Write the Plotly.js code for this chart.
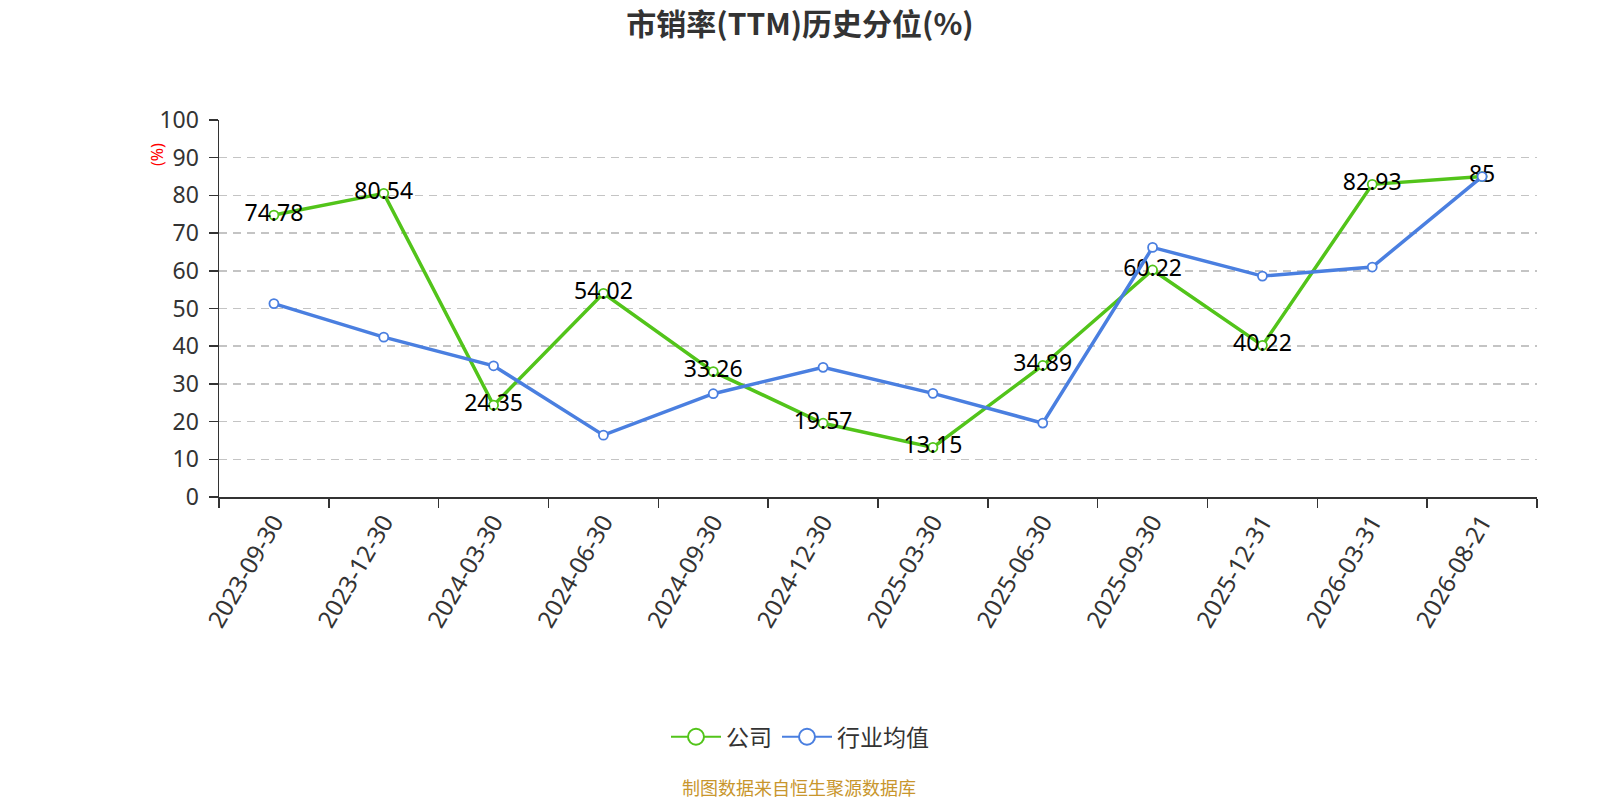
<!DOCTYPE html>
<html>
<head>
<meta charset="utf-8">
<script src="https://cdn.plot.ly/plotly-3.0.1.min.js"></script>
<style>
  html, body { margin: 0; padding: 0; background: #fff; overflow: hidden; }
  #plot { width: 1600px; height: 800px; display: block; }
</style>
</head>
<body>
<div id="plot"></div>
<script>
// dates on the category axis
const dates = ["2023-09-30", "2023-12-30", "2024-03-30", "2024-06-30", "2024-09-30", "2024-12-30",
               "2025-03-30", "2025-06-30", "2025-09-30", "2025-12-31", "2026-03-31", "2026-08-21"];
// company percentile
const company = [74.78, 80.54, 24.35, 54.02, 33.26, 19.57, 13.15, 34.89, 60.22, 40.22, 82.93, 85];
// industry average (no labels)
const industry = [51.3, 42.4, 34.8, 16.4, 27.4, 34.4, 27.5, 19.6, 66.2, 58.6, 61.0, 85];

const font = "'Noto Sans', 'Noto Sans CJK SC', sans-serif";
const cjk = "'Noto Sans CJK SC', sans-serif";
const green = "#52c41a";
const blue = "#4a7fe0";

const companyTrace = {
    x: dates,
    y: company,
    name: "公司",
    mode: "lines+markers+text",
    text: company.map(v => String(v)),
    textposition: "middle center",
    textfont: { size: 23, color: "#000", family: font },
    line: { color: green, width: 3.5 },
    marker: { size: 9, color: "#fff", line: { color: green, width: 1.8 } },
    cliponaxis: false,
    showlegend: false
};

const industryTrace = {
    x: dates,
    y: industry,
    name: "行业均值",
    mode: "lines+markers",
    line: { color: blue, width: 3.5 },
    marker: { size: 9, color: "#fff", line: { color: blue, width: 1.8 } },
    cliponaxis: false,
    showlegend: false
};

// legend-only entries with the bigger hollow circle
function legendEntry(name, color) {
    return {
        x: [null], y: [null],
        name: name,
        mode: "lines+markers",
        line: { color: color, width: 2 },
        marker: { size: 16, color: "#fff", line: { color: color, width: 2 } },
        hoverinfo: "skip"
    };
}

const layout = {
    width: 1600,
    height: 800,
    margin: { l: 219, r: 63, t: 120, b: 303 },
    paper_bgcolor: "#fff",
    plot_bgcolor: "#fff",
    font: { family: font, color: "#333" },
    title: {
        text: "<b>市销率(TTM)历史分位(%)</b>",
        x: 0.5, xanchor: "center",
        y: 0.97, yanchor: "middle",
        font: { size: 30, color: "#333", family: cjk }
    },
    xaxis: {
        type: "category",
        range: [-0.5, 11.5],
        tickson: "boundaries",
        ticks: "outside",
        ticklen: 9,
        tickwidth: 1.5,
        tickcolor: "#333",
        tickangle: -60,
        tickfont: { size: 24, color: "#333", family: font },
        showline: true,
        linecolor: "#333",
        linewidth: 1.5,
        showgrid: false,
        zeroline: false
    },
    yaxis: {
        range: [0, 100],
        dtick: 10,
        ticks: "outside",
        ticklen: 9,
        tickwidth: 1.5,
        tickcolor: "#333",
        ticklabelstandoff: 5,
        tickfont: { size: 23, color: "#333", family: font },
        showline: true,
        linecolor: "#333",
        linewidth: 1.5,
        showgrid: true,
        gridcolor: "#c4c4c4",
        griddash: "8px,6px",
        gridwidth: 1.5,
        zeroline: false
    },
    showlegend: true,
    legend: {
        orientation: "h",
        xref: "container", yref: "container",
        x: 0.5, xanchor: "center",
        y: 0.079, yanchor: "middle",
        font: { size: 23, color: "#333", family: cjk },
        itemwidth: 50
    },
    annotations: [
        {
            text: "(%)",
            xref: "paper", yref: "paper",
            x: -0.047, y: 0.907,
            xanchor: "center", yanchor: "middle",
            showarrow: false,
            textangle: -90,
            font: { size: 16, color: "red", family: font }
        },
        {
            text: "制图数据来自恒生聚源数据库",
            xref: "paper", yref: "paper",
            x: 0.44, y: -0.768,
            xanchor: "center", yanchor: "middle",
            showarrow: false,
            font: { size: 18, color: "#c8962d", family: cjk }
        }
    ]
};

Plotly.newPlot("plot",
    [companyTrace, industryTrace, legendEntry("公司", green), legendEntry("行业均值", blue)],
    layout, { displayModeBar: false, staticPlot: true });
</script>
</body>
</html>
